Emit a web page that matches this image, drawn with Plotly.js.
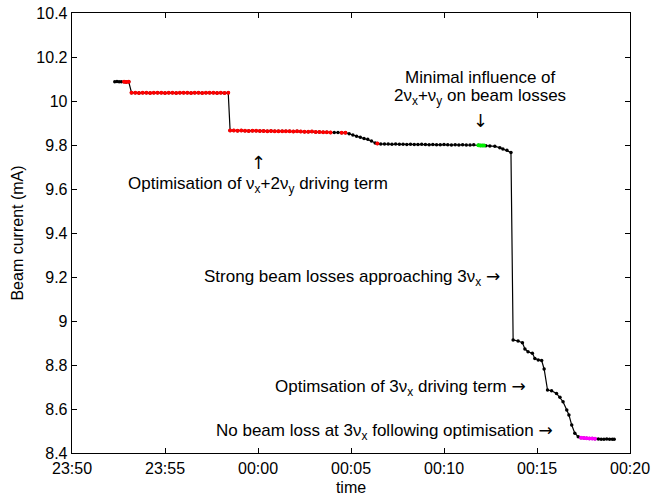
<!DOCTYPE html>
<html>
<head>
<meta charset="utf-8">
<script src="https://cdn.plot.ly/plotly-3.0.1.min.js"></script>
<style>
  html, body { margin: 0; padding: 0; background: #fff; }
  #chart { width: 654px; height: 500px; }
</style>
</head>
<body>
<div id="chart"></div>
<script>
// Beam current log: minutes after 23:50, current in mA, and a flag
// per sample marking the optimisation phase it belongs to
// (k = plain, r = coupling-term optimisation, g = 2vx+vy check, m = after 3vx fix).
const minutesAfter2350 = [
  2.30, 2.42, 2.54, 2.66, 2.80, 2.93, 3.06,
  3.20, 3.40, 3.60, 3.80, 4.00, 4.20, 4.40, 4.60, 4.80, 5.00, 5.20, 5.40, 5.60, 5.80,
  6.00, 6.20, 6.40, 6.60, 6.80, 7.00, 7.20, 7.40, 7.60, 7.80, 8.00, 8.20, 8.40,
  8.50, 8.70, 8.90, 9.10, 9.30, 9.50, 9.70, 9.90, 10.10, 10.30, 10.50, 10.70, 10.90,
  11.10, 11.30, 11.50, 11.70, 11.90, 12.10, 12.30, 12.50, 12.70, 12.90, 13.10, 13.30,
  13.50, 13.70, 13.90,
  14.10, 14.30, 14.50, 14.70,
  14.90, 15.10, 15.30, 15.50, 15.70, 15.90, 16.10, 16.30, 16.42,
  16.60, 16.80, 17.00, 17.20, 17.40, 17.60, 17.80, 18.00, 18.20, 18.40, 18.60, 18.80,
  19.00, 19.20, 19.40, 19.60, 19.80, 20.00, 20.20, 20.40, 20.60, 20.80, 21.00, 21.20,
  21.40, 21.60,
  21.85, 21.95, 22.05, 22.15,
  22.26, 22.47, 22.74, 23.01, 23.17, 23.39, 23.60,
  23.72, 23.99, 24.23, 24.35, 24.53, 24.75, 24.89, 25.07, 25.25, 25.39, 25.58, 25.79,
  26.06, 26.24, 26.41, 26.60, 26.72, 26.87, 27.04, 27.22,
  27.37, 27.52, 27.67, 27.82, 27.97, 28.12,
  28.30, 28.45, 28.60, 28.75, 28.90, 29.05, 29.15
];

const beamCurrent = [
  10.088, 10.089, 10.087, 10.088, 10.087, 10.086, 10.087,
  10.038, 10.037, 10.036, 10.038, 10.037, 10.036, 10.037, 10.038, 10.037, 10.036, 10.037, 10.038, 10.036, 10.037,
  10.037, 10.038, 10.036, 10.037, 10.037, 10.036, 10.038, 10.037, 10.037, 10.036, 10.037, 10.036, 10.037,
  9.866, 9.866, 9.865, 9.866, 9.865, 9.864, 9.865, 9.865, 9.864, 9.864, 9.863, 9.864, 9.863,
  9.862, 9.863, 9.862, 9.862, 9.861, 9.862, 9.861, 9.860, 9.860, 9.861, 9.859, 9.859,
  9.858, 9.858, 9.857,
  9.857, 9.857, 9.856, 9.856,
  9.851, 9.846, 9.840, 9.835, 9.830, 9.826, 9.818, 9.809, 9.807,
  9.805, 9.804, 9.804, 9.803, 9.804, 9.803, 9.803, 9.802, 9.803, 9.802, 9.802, 9.803,
  9.802, 9.801, 9.802, 9.801, 9.801, 9.802, 9.801, 9.800, 9.801, 9.800, 9.801, 9.800,
  9.800, 9.801,
  9.799, 9.798, 9.798, 9.798,
  9.797, 9.795, 9.794, 9.788, 9.782, 9.776, 9.766,
  8.914, 8.909, 8.901, 8.873, 8.860, 8.853, 8.830, 8.823, 8.820, 8.782, 8.686, 8.683,
  8.671, 8.653, 8.633, 8.595, 8.573, 8.527, 8.490, 8.474,
  8.469, 8.468, 8.467, 8.466, 8.466, 8.465,
  8.464, 8.463, 8.463, 8.464, 8.463, 8.463, 8.463
];

const phase = [
  'k','k','k','k','r','r','r',
  'r','r','r','r','r','r','r','r','r','r','r','r','r','r',
  'r','r','r','r','r','r','r','r','r','r','r','r','r',
  'r','r','r','r','r','r','r','r','r','r','r','r','r',
  'r','r','r','r','r','r','r','r','r','r','r','r',
  'r','r','r',
  'k','k','r','r',
  'k','k','k','k','k','k','k','k','r',
  'k','k','k','k','k','k','k','k','k','k','k','k',
  'k','k','k','k','k','k','k','k','k','k','k','k',
  'k','k',
  'g','g','g','g',
  'k','k','k','k','k','k','k',
  'k','k','k','k','k','k','k','k','k','k','k','k',
  'k','k','k','k','k','k','k','k',
  'm','m','m','m','m','m',
  'k','k','k','k','k','k','k'
];

const xTickLabels = ['23:50', '23:55', '00:00', '00:05', '00:10', '00:15', '00:20'];
const yTickValues = [8.4, 8.6, 8.8, 9.0, 9.2, 9.4, 9.6, 9.8, 10.0, 10.2, 10.4];

// minutes after 23:50 -> Plotly date string
const START = Date.UTC(2000, 0, 1, 23, 50, 0);
function toDate(mins) {
  const d = new Date(START + Math.round(mins * 60000));
  const p = n => String(n).padStart(2, '0');
  return d.getUTCFullYear() + '-' + p(d.getUTCMonth() + 1) + '-' + p(d.getUTCDate()) +
    ' ' + p(d.getUTCHours()) + ':' + p(d.getUTCMinutes()) + ':' + p(d.getUTCSeconds());
}

const times = minutesAfter2350.map(toDate);

function phaseTrace(flag, color, size) {
  const xs = [], ys = [];
  phase.forEach((f, i) => { if (f === flag) { xs.push(times[i]); ys.push(beamCurrent[i]); } });
  return {
    x: xs, y: ys, type: 'scatter', mode: 'markers',
    marker: { color: color, size: size, line: { width: 0 } },
    hoverinfo: 'x+y', showlegend: false
  };
}

const traces = [
  {
    x: times, y: beamCurrent, type: 'scatter', mode: 'lines+markers',
    line: { color: '#000', width: 1.2 },
    marker: { color: '#000', size: 3.5 },
    showlegend: false
  },
  phaseTrace('r', '#ff0000', 4),
  phaseTrace('g', '#00ee00', 4),
  phaseTrace('m', '#ff00ff', 4)
];

const FONT = 'Liberation Sans, Arial, Helvetica, sans-serif';
const txt = { family: FONT, size: 16, color: '#000' };
const noteFont = { family: FONT, size: 17, color: '#000' };

function note(mins, y, text, xanchor, size) {
  return {
    x: toDate(mins), y: y, xref: 'x', yref: 'y', text: text,
    showarrow: false, xanchor: xanchor || 'center', yanchor: 'middle',
    font: Object.assign({}, noteFont, size ? { size: size } : {})
  };
}

const vx = '\u03bd<sub>x</sub>';
const vy = '\u03bd<sub>y</sub>';
const ARROW_STYLE = 'font-family:DejaVu Sans';
const right = '<span style="' + ARROW_STYLE + '">\u2192</span>';
const up = '<span style="' + ARROW_STYLE + '">\u2191</span>';
const down = '<span style="' + ARROW_STYLE + '">\u2193</span>';

const layout = {
  width: 654, height: 500,
  margin: { l: 72, r: 24, t: 13, b: 47 },
  paper_bgcolor: '#fff', plot_bgcolor: '#fff',
  font: txt,
  showlegend: false,
  xaxis: {
    type: 'date',
    range: [toDate(0), toDate(30)],
    tickmode: 'array',
    tickvals: xTickLabels.map((_, i) => toDate(i * 5)),
    ticktext: xTickLabels,
    ticks: 'inside', ticklen: 5, tickcolor: '#000', tickwidth: 1,
    showline: true, linecolor: '#000', linewidth: 1.3, mirror: 'ticks',
    showgrid: false, zeroline: false,
    tickfont: txt,
    title: { text: 'time', font: txt, standoff: 6 }
  },
  yaxis: {
    range: [8.4, 10.4],
    tickmode: 'array',
    tickvals: yTickValues,
    ticktext: yTickValues.map(v => String(Math.round(v * 10) / 10)),
    ticks: 'inside', ticklen: 5, tickcolor: '#000', tickwidth: 1,
    showline: true, linecolor: '#000', linewidth: 1.3, mirror: 'ticks',
    showgrid: false, zeroline: false,
    tickfont: txt,
    title: { text: 'Beam current (mA)', font: txt, standoff: 8 }
  },
  annotations: [
    note(21.95, 10.109, 'Minimal influence of'),
    note(21.95, 10.018, '2' + vx + '+' + vy + ' on beam losses'),
    note(21.99, 9.912, down, 'center', 18),
    note(10.05, 9.722, up, 'center', 18),
    note(10.0, 9.618, 'Optimisation of ' + vx + '+2' + vy + ' driving term'),
    note(23.12, 9.200, 'Strong beam losses approaching 3' + vx + ' ' + right, 'right'),
    note(24.52, 8.700, 'Optimsation of 3' + vx + ' driving term ' + right, 'right'),
    note(25.97, 8.500, 'No beam loss at 3' + vx + ' following optimisation ' + right, 'right')
  ]
};

Plotly.newPlot('chart', traces, layout, { displayModeBar: false, staticPlot: true });
</script>
</body>
</html>
